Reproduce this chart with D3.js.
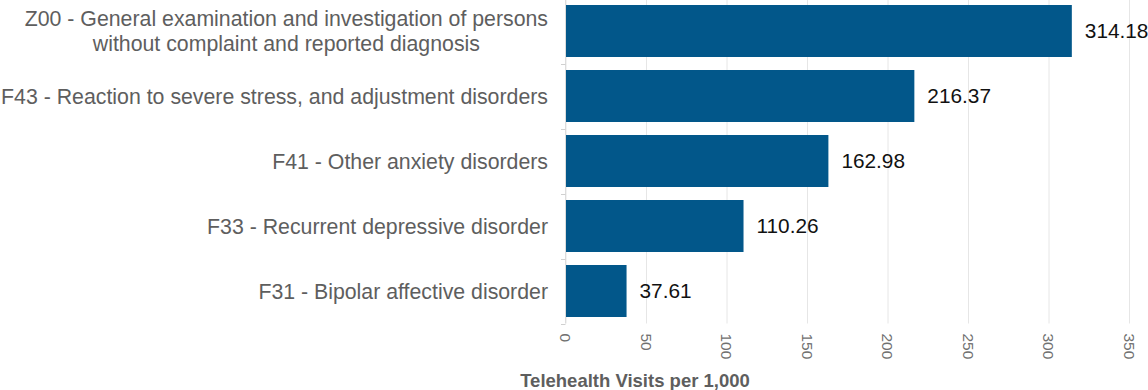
<!DOCTYPE html>
<html>
<head>
<meta charset="utf-8">
<script src="https://cdn.jsdelivr.net/npm/d3@7"></script>
<style>
  body { margin: 0; background: #fff; }
  svg { display: block; font-family: "Liberation Sans", Arial, sans-serif; }
</style>
</head>
<body>
<svg id="chart" width="1148" height="390"></svg>
<script>
// data
const categories = [
  ["Z00 - General examination and investigation of persons", "without complaint and reported diagnosis"],
  ["F43 - Reaction to severe stress, and adjustment disorders"],
  ["F41 - Other anxiety disorders"],
  ["F33 - Recurrent depressive disorder"],
  ["F31 - Bipolar affective disorder"]
];
const values = [314.18, 216.37, 162.98, 110.26, 37.61];
const xTicks = [0, 50, 100, 150, 200, 250, 300, 350];
const xTitle = "Telehealth Visits per 1,000";

const svg = d3.select("#chart");
const plotLeft = 566, plotRight = 1129.5, plotTop = -1.5, plotBottom = 323.5;
const barColor = "#02578a";

const data = values.map((v, i) => ({ label: categories[i], value: v, key: i }));

let x = d3.scaleLinear().domain([0, 350]).range([plotLeft, plotRight]);
let y = d3.scaleBand()
  .domain(data.map(d => d.key))
  .range([plotTop, plotBottom])
  .paddingInner(0.2)
  .paddingOuter(0.1);

// gridlines
svg.append("g")
  .selectAll("line")
  .data(xTicks)
  .enter()
  .append("line")
  .attr("x1", d => x(d)).attr("x2", d => x(d))
  .attr("y1", 0).attr("y2", plotBottom)
  .attr("stroke", "#e6e6e6")
  .attr("stroke-width", 1);

// y axis line and band-boundary ticks
svg.append("line")
  .attr("x1", plotLeft - 0.5).attr("x2", plotLeft - 0.5)
  .attr("y1", 0).attr("y2", plotBottom)
  .attr("stroke", "#dcdcdc");

const bounds = data.map(d => y(d.key) + y.bandwidth() + y.step() * y.paddingInner() / 2);
svg.append("g")
  .selectAll("line")
  .data(bounds)
  .enter()
  .append("line")
  .attr("x1", plotLeft - 5).attr("x2", plotLeft - 0.5)
  .attr("y1", d => Math.round(d) + 0.5).attr("y2", d => Math.round(d) + 0.5)
  .attr("stroke", "#d0d0d0");

// bars
svg.append("g")
  .selectAll("rect")
  .data(data)
  .enter()
  .append("rect")
  .attr("x", x(0))
  .attr("y", d => y(d.key))
  .attr("width", d => x(d.value) - x(0))
  .attr("height", y.bandwidth())
  .attr("fill", barColor);

// value labels
svg.append("g")
  .selectAll("text")
  .data(data)
  .enter()
  .append("text")
  .attr("x", d => x(d.value) + 13)
  .attr("y", d => y(d.key) + y.bandwidth() / 2)
  .attr("dy", "0.36em")
  .attr("font-size", 20.8)
  .attr("fill", "#111")
  .text(d => d.value.toFixed(2));

// category labels (multi-line block right-aligned, lines centred to each other)
const labelRight = 548;
const catG = svg.append("g")
  .selectAll("g")
  .data(data)
  .enter()
  .append("g");

catG.each(function(d) {
  const g = d3.select(this);
  const n = d.label.length;
  const lh = 25;
  const cy = y(d.key) + y.bandwidth() / 2;
  const t = g.append("text")
    .attr("font-size", 21.3)
    .attr("fill", "#5e5e5e");
  d.label.forEach((line, i) => {
    t.append("tspan")
      .attr("y", cy + (i - (n - 1) / 2) * lh)
      .attr("dy", "0.36em")
      .text(line);
  });
  const widths = [];
  t.selectAll("tspan").each(function() { widths.push(this.getComputedTextLength()); });
  const maxW = d3.max(widths);
  t.selectAll("tspan").attr("x", (l, i) => labelRight - maxW / 2 - widths[i] / 2);
});

// x tick labels, rotated
svg.append("g")
  .selectAll("text")
  .data(xTicks)
  .enter()
  .append("text")
  .attr("transform", d => `translate(${x(d)},${plotBottom + 10}) rotate(90)`)
  .attr("dy", "0.36em")
  .attr("font-size", 15.5)
  .attr("fill", "#707070")
  .text(d => d);

// x axis title
svg.append("text")
  .attr("x", 635)
  .attr("y", 387)
  .attr("text-anchor", "middle")
  .attr("font-size", 18.5)
  .attr("font-weight", "bold")
  .attr("fill", "#5e5e5e")
  .text(xTitle);
</script>
</body>
</html>
